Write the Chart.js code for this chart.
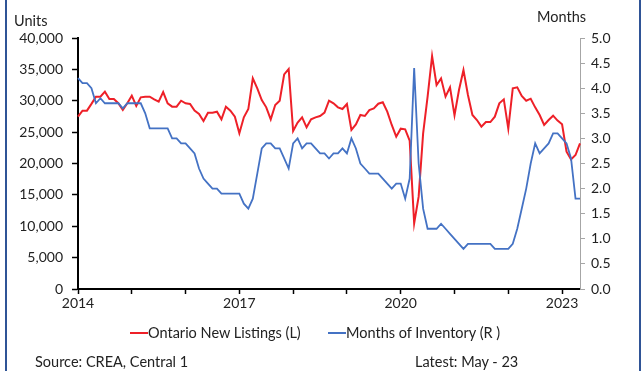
<!DOCTYPE html>
<html>
<head>
<meta charset="utf-8">
<script src="https://cdn.jsdelivr.net/npm/chart.js@4.4.0/dist/chart.umd.min.js"></script>
<style>
  html, body { margin: 0; padding: 0; background: #fff; }
  #wrap { position: relative; width: 642px; height: 371px; overflow: hidden; font-family: Lato, "Noto Sans", sans-serif; color: #222; }
  #wrap canvas { position: absolute; left: 0; top: 0; }
  .frame { position: absolute; top: 0; bottom: 0; width: 2px; background: #2F5496; }
  .lbl { position: absolute; font-size: 14.5px; line-height: 16px; white-space: nowrap; }
  .key { position: absolute; height: 2px; width: 18px; }
</style>
</head>
<body>
<div id="wrap">
  <canvas id="chart" width="642" height="371"></canvas>
  <div class="frame" style="left:5px"></div>
  <div class="frame" style="left:639px"></div>
  <div class="lbl" style="left:14px;top:13px">Units</div>
  <div class="lbl" style="left:537px;top:9px">Months</div>
  <div class="key" style="left:130px;top:332px;background:#EE2028"></div>
  <div class="lbl" style="left:148px;top:325px">Ontario New Listings (L)</div>
  <div class="key" style="left:328px;top:332px;background:#4472C4"></div>
  <div class="lbl" style="left:346px;top:325px">Months of Inventory (R )</div>
  <div class="lbl" style="left:35px;top:354px">Source: CREA, Central 1</div>
  <div class="lbl" style="left:415px;top:354px">Latest: May - 23</div>
</div>
<script>
// monthly, Jan 2014 .. May 2023
const startYear = 2014;
const yearLabels = ['2014', '2017', '2020', '2023'];

const newListings = [
  27460, 28420, 28420, 29500, 30650, 30650, 31450, 30280, 30280, 29600, 28520, 29590,
  30810, 29160, 30540, 30650, 30650, 30220, 29850, 31390, 29580, 29060, 29060, 30000,
  29590, 29480, 28420, 27890, 26770, 28100, 28100, 28260, 27040, 29060, 28420, 27460,
  24810, 27360, 28680, 33570, 31980, 30120, 28950, 27040, 29320, 30010, 34210, 35060,
  25180, 26510, 27360, 25760, 27040, 27360, 27570, 28100, 30010, 29590, 28950, 28680,
  29480, 25340, 26240, 27730, 27570, 28520, 28790, 29530, 29750, 28260, 26140, 24280,
  25550, 25450, 23640, 10460, 14710, 24810, 30650, 37130, 32510, 33570, 30650, 32140,
  27680, 31710, 34900, 30920, 27730, 26930, 25870, 26610, 26610, 27460, 29590, 30220,
  25550, 31980, 32140, 30760, 30010, 30330, 28950, 27730, 26140, 26930, 27620, 26830,
  26240, 21890, 20660, 21350, 23210
];

const monthsInventory = [
  4.2, 4.1, 4.1, 4.0, 3.7, 3.8, 3.7, 3.7, 3.7, 3.7, 3.6, 3.7,
  3.7, 3.7, 3.7, 3.5, 3.2, 3.2, 3.2, 3.2, 3.2, 3.0, 3.0, 2.9,
  2.9, 2.8, 2.7, 2.4, 2.2, 2.1, 2.0, 2.0, 1.9, 1.9, 1.9, 1.9,
  1.9, 1.7, 1.6, 1.8, 2.3, 2.8, 2.9, 2.9, 2.8, 2.8, 2.6, 2.4,
  2.9, 3.0, 2.8, 2.9, 2.9, 2.8, 2.7, 2.7, 2.6, 2.7, 2.7, 2.8,
  2.7, 3.0, 2.8, 2.5, 2.4, 2.3, 2.3, 2.3, 2.2, 2.1, 2.0, 2.1,
  2.1, 1.8, 2.2, 4.4, 2.5, 1.6, 1.2, 1.2, 1.2, 1.3, 1.2, 1.1,
  1.0, 0.9, 0.8, 0.9, 0.9, 0.9, 0.9, 0.9, 0.9, 0.8, 0.8, 0.8,
  0.8, 0.9, 1.2, 1.6, 2.0, 2.5, 2.9, 2.7, 2.8, 2.9, 3.1, 3.1,
  3.0, 2.9, 2.6, 1.8, 1.8
];

const months = newListings.map((v, i) => {
  const y = startYear + Math.floor(i / 12);
  const m = (i % 12) + 1;
  return y + '-' + String(m).padStart(2, '0');
});

const tickFont = { family: 'Lato, "Noto Sans", sans-serif', size: 14 };

new Chart(document.getElementById('chart').getContext('2d'), {
  type: 'line',
  data: {
    labels: months,
    datasets: [
      { label: 'Months of Inventory (R )', data: monthsInventory, yAxisID: 'yR', borderColor: '#4472C4', borderWidth: 1.8, pointRadius: 0, tension: 0, fill: false },
      { label: 'Ontario New Listings (L)', data: newListings, yAxisID: 'yL', borderColor: '#EE2028', borderWidth: 2, pointRadius: 0, tension: 0, fill: false }
    ]
  },
  options: {
    responsive: false,
    animation: false,
    layout: { padding: { top: 38, bottom: 56, left: 0, right: 0 } },
    plugins: { legend: { display: false }, tooltip: { enabled: false } },
    scales: {
      x: {
        type: 'category',
        offset: false,
        border: { display: true, color: '#000', width: 2 },
        grid: {
          drawOnChartArea: false, drawTicks: true, tickLength: 5, tickWidth: 1.5,
          tickColor: (c) => (c.index % 12 === 0 ? '#000' : 'rgba(0,0,0,0)')
        },
        ticks: {
          autoSkip: false, maxRotation: 0, minRotation: 0, padding: 1, color: '#222', font: tickFont,
          callback: function(v, i) {
            const lab = this.getLabelForValue(v).slice(0, 4);
            return (i % 12 === 0 && yearLabels.includes(lab)) ? lab : '';
          }
        },
        afterFit: (s) => { s.height = 26; }
      },
      yL: {
        position: 'left', min: 0, max: 40000,
        border: { display: true, color: '#000', width: 2 },
        grid: { drawOnChartArea: false, drawTicks: true, tickLength: 6, tickColor: '#000', tickWidth: 1.5 },
        ticks: { stepSize: 5000, padding: 9, color: '#222', font: tickFont, callback: (v) => v.toLocaleString('en-US') },
        afterFit: (s) => { s.width = 78; }
      },
      yR: {
        position: 'right', min: 0, max: 5,
        border: { display: true, color: '#A6A6A6', width: 1 },
        grid: { drawOnChartArea: false, drawTicks: true, tickLength: 5, tickColor: '#A6A6A6' },
        ticks: { stepSize: 0.5, padding: 6, color: '#222', font: tickFont, callback: (v) => v.toFixed(1) },
        afterFit: (s) => { s.width = 62; }
      }
    }
  }
});
</script>
</body>
</html>
